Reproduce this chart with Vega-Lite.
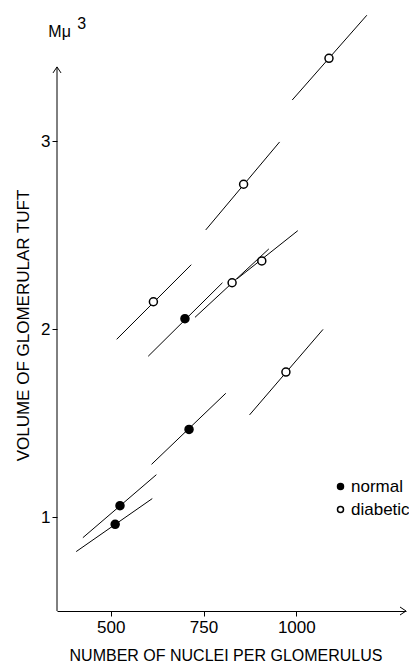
{
  "$schema": "https://vega.github.io/schema/vega-lite/v6.json",
  "width": 349,
  "height": 611,
  "autosize": {"type": "none"},
  "padding": {"left": 57, "top": 0, "right": 3, "bottom": 52},
  "config": {
    "font": "Liberation Sans",
    "view": {"stroke": null},
    "axis": {"grid": false, "domainColor": "black", "tickColor": "black", "labelColor": "black", "titleColor": "black", "titleFontWeight": "normal", "domainWidth": 1, "tickWidth": 1}
  },
  "datasets": {
    "glom": [
      {"group": "diabetic", "n": 1088, "v": 3.44, "x1": 989, "y1": 3.218, "x2": 1190, "y2": 3.669},
      {"group": "diabetic", "n": 858, "v": 2.77, "x1": 756, "y1": 2.527, "x2": 955, "y2": 2.995},
      {"group": "diabetic", "n": 615, "v": 2.145, "x1": 516, "y1": 1.945, "x2": 717, "y2": 2.342},
      {"group": "diabetic", "n": 827, "v": 2.246, "x1": 727, "y1": 2.062, "x2": 926, "y2": 2.426},
      {"group": "diabetic", "n": 907, "v": 2.362, "x1": 840, "y1": 2.266, "x2": 1004, "y2": 2.523},
      {"group": "diabetic", "n": 972, "v": 1.771, "x1": 874, "y1": 1.543, "x2": 1072, "y2": 1.998},
      {"group": "normal", "n": 700, "v": 2.055, "x1": 601, "y1": 1.855, "x2": 801, "y2": 2.246},
      {"group": "normal", "n": 711, "v": 1.466, "x1": 610, "y1": 1.28, "x2": 810, "y2": 1.658},
      {"group": "normal", "n": 525, "v": 1.06, "x1": 425, "y1": 0.89, "x2": 623, "y2": 1.225},
      {"group": "normal", "n": 512, "v": 0.961, "x1": 407, "y1": 0.816, "x2": 612, "y2": 1.098}
    ]
  },
  "layer": [
    {
      "data": {"name": "glom"},
      "mark": {"type": "rule", "color": "black", "strokeWidth": 1},
      "encoding": {
        "x": {"field": "x1", "type": "quantitative", "scale": {"domain": [355.3, 1295.5], "nice": false, "zero": false},
          "axis": {"values": [500, 750, 1000], "format": "d", "title": "NUMBER OF NUCLEI PER GLOMERULUS", "tickSize": 5, "labelPadding": 3, "labelFontSize": 17, "titleFontSize": 16, "titleX": 168.5, "titleY": 49.5, "titleBaseline": "alphabetic", "labelFlush": false}},
        "y": {"field": "y1", "type": "quantitative", "scale": {"domain": [0.5, 3.75], "nice": false, "zero": false},
          "axis": {"values": [1, 2, 3], "format": "d", "title": "VOLUME OF GLOMERULAR TUFT", "tickSize": 5, "labelPadding": 2, "labelFontSize": 17, "titleFontSize": 17, "titleX": -29, "titleY": 325, "titleBaseline": "alphabetic", "domain": false}},
        "x2": {"field": "x2"},
        "y2": {"field": "y2"}
      }
    },
    {
      "data": {"values": [{}]},
      "mark": {"type": "rule", "color": "black", "strokeWidth": 1},
      "encoding": {
        "x": {"datum": 355.3, "type": "quantitative"},
        "y": {"datum": 0.5, "type": "quantitative"},
        "y2": {"datum": 3.394}
      }
    },
    {
      "data": {"values": [{}]},
      "mark": {"type": "point", "shape": "M-0.8,1.2L0,0L0.8,1.2", "size": 100, "filled": false, "stroke": "black", "strokeWidth": 1, "opacity": 1},
      "encoding": {
        "x": {"datum": 355.3, "type": "quantitative"},
        "y": {"datum": 3.394, "type": "quantitative"}
      }
    },
    {
      "data": {"values": [{}]},
      "mark": {"type": "point", "shape": "M-1.2,-0.8L0,0L-1.2,0.8", "size": 100, "filled": false, "stroke": "black", "strokeWidth": 1, "opacity": 1},
      "encoding": {
        "x": {"datum": 1295.5, "type": "quantitative"},
        "y": {"datum": 0.5, "type": "quantitative"}
      }
    },
    {
      "data": {"name": "glom"},
      "mark": {"type": "point", "filled": true, "size": 64, "stroke": "black", "strokeWidth": 1.5, "opacity": 1},
      "encoding": {
        "x": {"field": "n", "type": "quantitative"},
        "y": {"field": "v", "type": "quantitative"},
        "fill": {"field": "group", "type": "nominal", "scale": {"domain": ["normal", "diabetic"], "range": ["black", "white"]},
          "legend": {"title": null, "orient": "none", "legendX": 275, "legendY": 478, "labelFontSize": 17, "labelColor": "black", "symbolStrokeColor": "black", "symbolStrokeWidth": 1.5, "symbolSize": 36, "symbolType": "circle", "rowPadding": 5, "labelOffset": 2, "padding": 0, "labelLimit": 200}}
      }
    },
    {
      "data": {"values": [{}]},
      "mark": {"type": "text", "text": "Mμ", "fontSize": 16, "align": "left", "baseline": "alphabetic", "color": "black"},
      "encoding": {
        "x": {"datum": 331.9, "type": "quantitative"},
        "y": {"datum": 3.555, "type": "quantitative"}
      }
    },
    {
      "data": {"values": [{}]},
      "mark": {"type": "text", "text": "3", "fontSize": 16, "align": "left", "baseline": "alphabetic", "color": "black"},
      "encoding": {
        "x": {"datum": 410, "type": "quantitative"},
        "y": {"datum": 3.594, "type": "quantitative"}
      }
    }
  ]
}
